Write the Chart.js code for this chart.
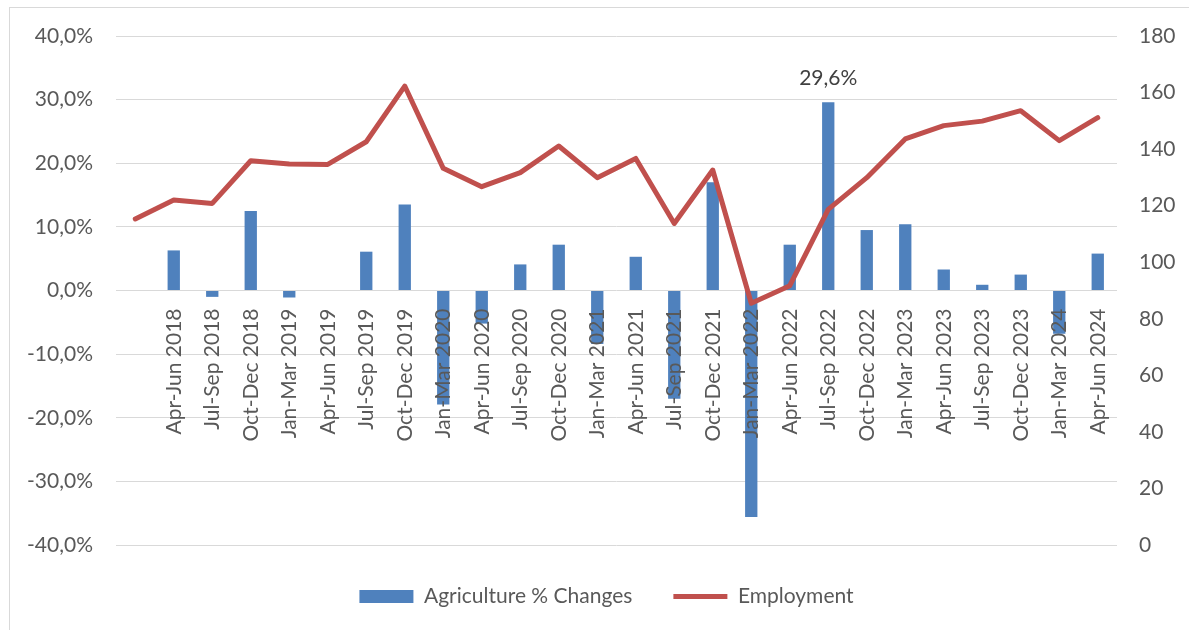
<!DOCTYPE html>
<html>
<head>
<meta charset="utf-8">
<script src="https://cdn.jsdelivr.net/npm/chart.js@4.4.1/dist/chart.umd.min.js"></script>
<style>
  html, body { margin: 0; padding: 0; background: #fff; }
  #frame { position: absolute; left: 9px; top: 7px; width: 1300px; height: 700px;
           border-left: 1px solid #d9d9d9; border-top: 1px solid #d9d9d9; }
  #wrap { position: absolute; left: 0; top: 0; width: 1189px; height: 630px; }
</style>
</head>
<body>
<div id="frame"></div>
<div id="wrap"><canvas id="agriChart"></canvas></div>
<script>
// quarterly series, first quarter only has an employment value
var quarters = ['', 'Apr-Jun 2018', 'Jul-Sep 2018', 'Oct-Dec 2018', 'Jan-Mar 2019', 'Apr-Jun 2019',
    'Jul-Sep 2019', 'Oct-Dec 2019', 'Jan-Mar 2020', 'Apr-Jun 2020', 'Jul-Sep 2020', 'Oct-Dec 2020',
    'Jan-Mar 2021', 'Apr-Jun 2021', 'Jul-Sep 2021', 'Oct-Dec 2021', 'Jan-Mar 2022', 'Apr-Jun 2022',
    'Jul-Sep 2022', 'Oct-Dec 2022', 'Jan-Mar 2023', 'Apr-Jun 2023', 'Jul-Sep 2023', 'Oct-Dec 2023',
    'Jan-Mar 2024', 'Apr-Jun 2024'];
var agriChanges = [null, 6.3, -1.0, 12.5, -1.1, 0.0, 6.1, 13.5, -17.9, -5.2, 4.1, 7.2,
    -8.4, 5.3, -17.0, 17.0, -35.6, 7.2, 29.6, 9.5, 10.4, 3.3, 0.9, 2.5, -6.8, 5.8];
var employment = [115.3, 122.0, 120.8, 135.9, 134.7, 134.6, 142.6, 162.3, 133.2, 126.7, 131.7, 141.1,
    129.9, 136.7, 113.7, 132.6, 85.5, 91.7, 118.7, 129.9, 143.6, 148.3, 149.9, 153.6, 143.0, 151.1];
var labelledIndex = 18; // only the Jul-Sep 2022 bar carries a value label

var fontFamily = 'Lato, "Liberation Sans", sans-serif';
var fontSize = 21;
var textColor = '#595959';

function pctLabel(v) {
    return v.toFixed(1).replace('.', ',') + '%';
}

// writes the value above the one labelled bar
var barValueLabel = {
    id: 'barValueLabel',
    afterDatasetsDraw: function (chart) {
        var meta = chart.getDatasetMeta(0);
        var bar = meta.data[labelledIndex];
        if (!bar) return;
        var ctx = chart.ctx;
        ctx.save();
        ctx.font = fontSize + 'px ' + fontFamily;
        ctx.fillStyle = '#404040';
        ctx.textAlign = 'center';
        ctx.textBaseline = 'middle';
        ctx.fillText(pctLabel(agriChanges[labelledIndex]), bar.x, bar.y - 24);
        ctx.restore();
    }
};

var ctx = document.getElementById('agriChart').getContext('2d');
var agriChart = new Chart(ctx, {
    type: 'bar',
    data: {
        labels: quarters,
        datasets: [{
            type: 'bar',
            label: 'Agriculture % Changes',
            data: agriChanges,
            backgroundColor: '#4f81bd',
            borderWidth: 0,
            yAxisID: 'y',
            order: 1,
            barPercentage: 0.64,
            categoryPercentage: 0.5,
            pointStyle: 'rect'
        }, {
            type: 'line',
            label: 'Employment',
            data: employment,
            borderColor: '#c0504d',
            backgroundColor: '#c0504d',
            borderWidth: 5,
            borderJoinStyle: 'round',
            borderCapStyle: 'round',
            pointRadius: 0,
            tension: 0,
            yAxisID: 'y1',
            order: 0,
            pointStyle: 'line'
        }]
    },
    options: {
        responsive: true,
        maintainAspectRatio: false,
        animation: false,
        layout: { padding: { top: 36, left: 24, right: 0, bottom: 13 } },
        plugins: {
            tooltip: { enabled: false },
            legend: {
                position: 'bottom',
                labels: {
                    usePointStyle: true,
                    pointStyleWidth: 54,
                    boxHeight: 13,
                    padding: 41,
                    color: textColor,
                    font: { family: fontFamily, size: fontSize },
                    sort: function (a, b) { return a.datasetIndex - b.datasetIndex; }
                }
            }
        },
        scales: {
            x: {
                position: { y: 0 },
                grid: { display: false },
                border: { display: false },
                ticks: {
                    z: 1, // category labels sit on top of the bars
                    autoSkip: false,
                    maxRotation: 90,
                    minRotation: 90,
                    padding: 10,
                    color: textColor,
                    font: { family: fontFamily, size: fontSize }
                }
            },
            y: {
                position: 'left',
                min: -40,
                max: 40,
                afterFit: function (scale) { scale.width = 92; },
                grid: { color: '#d9d9d9', lineWidth: 1, drawTicks: false },
                border: { display: false },
                ticks: {
                    stepSize: 10,
                    padding: 23,
                    color: textColor,
                    font: { family: fontFamily, size: fontSize },
                    callback: function (value) { return pctLabel(value); }
                }
            },
            y1: {
                position: 'right',
                min: 0,
                max: 180,
                afterFit: function (scale) { scale.width = 72; },
                grid: { display: false, drawTicks: false },
                border: { display: false },
                ticks: {
                    stepSize: 20,
                    padding: 22,
                    color: textColor,
                    font: { family: fontFamily, size: fontSize }
                }
            }
        }
    },
    plugins: [barValueLabel]
});
</script>
</body>
</html>
